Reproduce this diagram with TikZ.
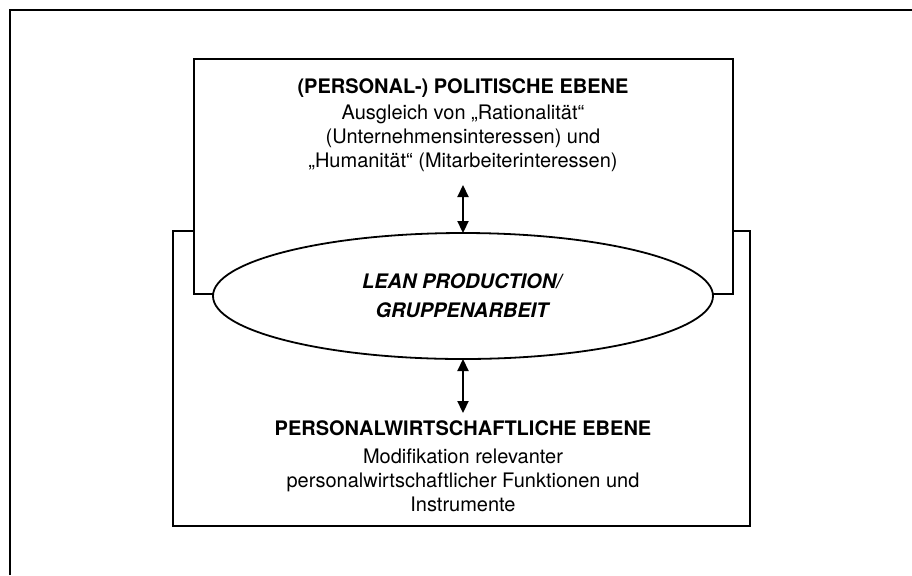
\documentclass[tikz,border=0pt]{standalone}
\usepackage{fontspec}
\setmainfont{TeX Gyre Heros}
\usetikzlibrary{shapes.geometric,arrows.meta,backgrounds}
\begin{document}
\begin{tikzpicture}[
    x=0.5pt, y=-0.5pt,
    every node/.style={align=center, font=\fontsize{10}{12}\selectfont},
    ebene/.style={draw, line width=0.9pt, fill=white, rectangle, inner sep=0pt, outer sep=0pt},
    kern/.style={draw, line width=0.9pt, fill=white, ellipse, inner sep=0pt, outer sep=0pt,
      minimum width=250pt, minimum height=63pt},
    pfeil/.style={{Triangle[length=6pt,width=5.5pt]}-{Triangle[length=6pt,width=5.5pt]}, line width=1.1pt}
  ]
  \useasboundingbox (0,0) rectangle (912,575);
  % outer frame
  \draw[line width=0.9pt] (10,575) -- (10,10) -- (912,10);
  % centre
  \node[kern] (lean) at (463,296)
    {\textbf{\textit{LEAN PRODUCTION/}}\\[2.5pt]\textbf{\textit{GRUPPENARBEIT}}};
  \begin{scope}[on background layer]
    \node[ebene, minimum width=288.5pt, minimum height=147.5pt] (unten) at (461.5,378.5) {};
    \node[ebene, minimum width=269.5pt, minimum height=117.5pt] (oben) at (463.5,176.5) {};
  \end{scope}
  % texts
  \node (politik) at (463,125)
    {\textbf{(PERSONAL-) POLITISCHE EBENE}\\[1pt]
     Ausgleich von „Rationalität“\\
     (Unternehmensinteressen) und\\
     „Humanität“ (Mitarbeiterinteressen)};
  \node (personal) at (463,466)
    {\textbf{PERSONALWIRTSCHAFTLICHE EBENE}\\[2pt]
     Modifikation relevanter\\
     personalwirtschaftlicher Funktionen und\\
     Instrumente};
  % arrows
  \coordinate (obenpfeil) at (463,185);
  \coordinate (untenpfeil) at (463,413);
  \draw[pfeil] (obenpfeil) -- (lean.north);
  \draw[pfeil] (lean.south) -- (untenpfeil);
\end{tikzpicture}
\end{document}
